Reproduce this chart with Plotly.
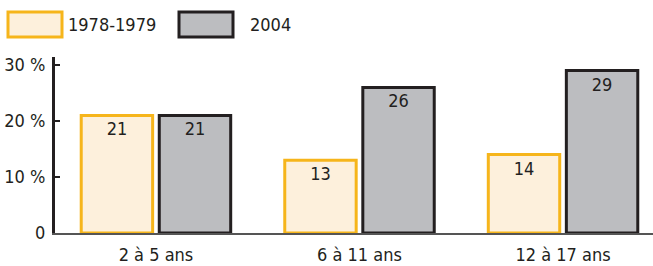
import plotly.graph_objects as go

categories = ["2 à 5 ans", "6 à 11 ans", "12 à 17 ans"]
series_names = ["1978-1979", "2004"]
values_1978 = [21, 13, 14]
values_2004 = [21, 26, 29]
tick_vals = [0, 10, 20, 30]
tick_labels = ["0", "10 %", "20 %", "30 %"]

FONT = "Liberation Sans Narrow, DejaVu Sans Condensed, Arial Narrow, sans-serif"
fills = ["#FDF0DC", "#BCBDC0"]
borders = ["#F6B51B", "#231F20"]

fig = go.Figure()
for name, vals, fc, bc in zip(series_names, [values_1978, values_2004], fills, borders):
    fig.add_trace(go.Bar(
        x=categories, y=vals, name=name,
        marker=dict(color=fc, line=dict(color=bc, width=3)),
        text=[str(v) for v in vals], textposition="inside", insidetextanchor="end",
        textfont=dict(family=FONT, size=18, color="#231F20"),
        textangle=0, showlegend=False, cliponaxis=False,
    ))

# legend drawn as boxes + labels
for i, name in enumerate(series_names):
    fig.add_shape(type="rect", xref="paper", yref="paper",
                  x0=(8 + 171 * i - 55) / 598, x1=(62 + 171 * i - 55) / 598,
                  y0=(233 - 37) / 176, y1=(233 - 12) / 176,
                  fillcolor=fills[i], line=dict(color=borders[i], width=3))
    fig.add_annotation(xref="paper", yref="paper",
                       x=(66 + 182 * i - 55) / 598, y=(233 - 24.5) / 176,
                       text=name, showarrow=False, xanchor="left", yanchor="middle",
                       font=dict(family=FONT, size=18, color="#231F20"))

fig.update_layout(
    width=653, height=266,
    margin=dict(l=55, r=0, t=57, b=33, autoexpand=False),
    plot_bgcolor="white", paper_bgcolor="white",
    barmode="group", bargap=0.233, bargroupgap=0.085,
    showlegend=False,
    font=dict(family=FONT, size=18, color="#231F20"),
    xaxis=dict(range=[-0.496, 2.442], showline=True, linecolor="#555555", linewidth=1.5,
               ticks="", showgrid=False, automargin=False, ticklabelstandoff=5,
               tickfont=dict(family=FONT, size=18, color="#231F20")),
    yaxis=dict(range=[0, 31.43], tickvals=tick_vals, ticktext=tick_labels,
               showline=True, linecolor="#231F20", linewidth=3, showgrid=False, zeroline=False,
               ticks="inside", ticklen=5, tickwidth=1.5, tickcolor="#231F20", automargin=False,
               ticklabelstandoff=3,
               tickfont=dict(family=FONT, size=18, color="#231F20")),
)

fig.write_html("out.html", config={"displayModeBar": False},
               post_script="document.body.style.margin='0';")
